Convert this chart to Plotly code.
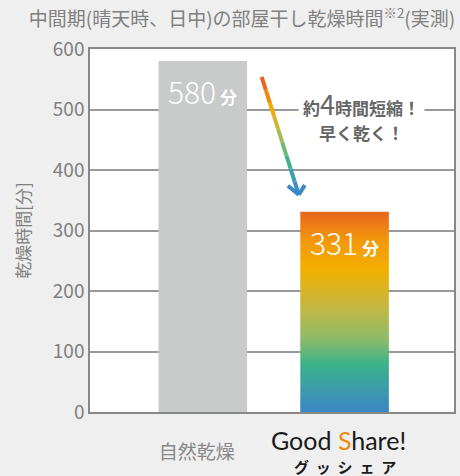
import plotly.graph_objects as go

categories = ["自然乾燥", "Good Share!"]
minutes = [580, 331]
bar_colors = ["#C9CACA", None]
# bottom -> top colours of the Good Share bar
gradient = [[0.0, "#3B86C6"], [0.24, "#3CB38A"], [0.36, "#8BBA6A"],
            [0.5, "#BDB84A"], [0.71, "#F2B000"], [0.85, "#F39A0A"],
            [1.0, "#E8661E"]]
arrow_colors = ["#E9661C", "#F08A0C", "#F2AA02", "#D2B431", "#A8B95A",
                "#72B873", "#3FB38A", "#3C9FB0", "#3B8BC4"]

FONT = "Noto Sans CJK JP"
GREY = "#808080"
BAR_W = 0.625
NB = "\u00a0\u00a0"

fig = go.Figure()

# plain grey bar
fig.add_trace(go.Bar(x=[0], y=[minutes[0]], width=BAR_W,
                     marker=dict(color=bar_colors[0], line_width=0),
                     hoverinfo="skip"))

# gradient bar, drawn as a filled box so it can take a vertical gradient
i, v = 1, minutes[1]
fig.add_trace(go.Scatter(
    x=[i - BAR_W / 2, i + BAR_W / 2, i + BAR_W / 2, i - BAR_W / 2, i - BAR_W / 2],
    y=[0, 0, v, v, 0], mode="lines", fill="toself", line_width=0,
    fillgradient=dict(type="vertical", colorscale=gradient, start=0, stop=v),
    hoverinfo="skip"))

# value labels inside the bars
for idx, val in enumerate(minutes):
    fig.add_annotation(x=idx, y=val, xref="x", yref="y", yanchor="middle",
                       xanchor="center", yshift=-30, showarrow=False,
                       text=f"{val}<span style='font-size:17px;font-weight:bold'> 分</span>",
                       font=dict(family=FONT, size=30, color="white", weight=300))

# gradient arrow between the two bars
x0, y0, x1, y1 = 0.415, 554, 0.677, 359
n = len(arrow_colors)
for k, c in enumerate(arrow_colors):
    fig.add_shape(type="line", xref="x", yref="y",
                  x0=x0 + (x1 - x0) * k / n, y0=y0 + (y1 - y0) * k / n,
                  x1=x0 + (x1 - x0) * (k + 1) / n, y1=y0 + (y1 - y0) * (k + 1) / n,
                  line=dict(color=c, width=4))
for wx, wy in [(0.600, 374), (0.719, 375)]:
    fig.add_shape(type="line", xref="x", yref="y", x0=x1, y0=y1, x1=wx, y1=wy,
                  line=dict(color="#3B86C6", width=4))

fig.add_annotation(x=0.746, y=0.851, xref="paper", yref="paper", showarrow=False,
                   xanchor="center", yanchor="middle",
                   text="約<span style='font-size:27px;font-weight:normal'>4</span>時間短縮！",
                   bgcolor="white", borderpad=4,
                   font=dict(family=FONT, size=17, color="#666666", weight="bold"))
fig.add_annotation(x=0.746, y=0.771, xref="paper", yref="paper", showarrow=False,
                   xanchor="center", yanchor="middle",
                   text="早く乾く！",
                   font=dict(family=FONT, size=17, color="#666666", weight="bold"))

# Good Share logo under the second bar
fig.add_annotation(x=1, y=0, xref="x", yref="y", yanchor="middle", xanchor="center",
                   yshift=-28, xshift=-6, showarrow=False,
                   text="Good <span style='color:#F08A0C'>S</span>hare!",
                   font=dict(family="Lato", size=25, color="#1a1a1a"))
fig.add_annotation(x=1, y=0, xref="x", yref="y", yanchor="middle", xanchor="center",
                   yshift=-54, showarrow=False, text=NB.join("グッシェア"),
                   font=dict(family=FONT, size=15, color="#1a1a1a", weight="bold"))

fig.update_xaxes(range=[-0.796, 1.772], tickvals=[0], ticktext=[categories[0]],
                 tickfont=dict(family=FONT, size=19, color="#888888"),
                 showgrid=False, zeroline=False, showline=True, mirror=True,
                 linecolor="#888888", linewidth=1.5, ticks="",
                 ticklabelstandoff=22, ticklabelshift=-6)
fig.update_yaxes(range=[0, 600], dtick=100, showgrid=True, gridcolor="#999999",
                 gridwidth=1.5, zeroline=False, showline=True, mirror=True,
                 linecolor="#888888", linewidth=1.5, ticks="", ticklabelstandoff=0,
                 tickfont=dict(family=FONT, size=19, color=GREY),
                 title=dict(text="乾燥時間[分]", standoff=18,
                            font=dict(family=FONT, size=17, color=GREY)))

fig.update_layout(
    width=460, height=476, showlegend=False,
    margin=dict(l=90, r=4, t=49, b=64),
    paper_bgcolor="#EFEFEF", plot_bgcolor="white",
    title=dict(text="中間期(晴天時、日中)の部屋干し乾燥時間<sup>※2</sup>(実測)",
               x=0.526, xanchor="center", y=0.96, yanchor="middle",
               xref="container", yref="container",
               font=dict(family=FONT, size=19, color=GREY)),
)

# drop the default page margin so the figure sits at the window's corner
fig.write_html("out.html", config={"displayModeBar": False},
               post_script="document.body.style.margin='0';")
